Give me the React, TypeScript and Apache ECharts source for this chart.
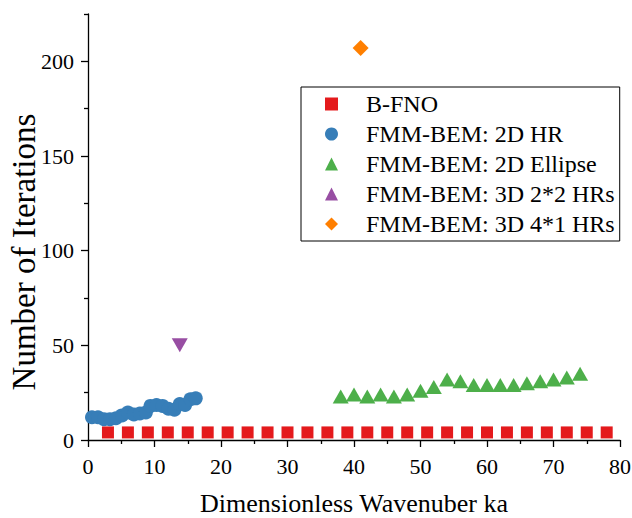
import React, { useEffect, useRef } from "react";
import * as echarts from "echarts";

// ---- data ----
const bfnoX = [3, 6, 9, 12, 15, 18, 21, 24, 27, 30, 33, 36, 39, 42, 45, 48, 51, 54, 57, 60, 63, 66, 69, 72, 75, 78];
const bfnoY = [4, 4, 4, 4, 4, 4, 4, 4, 4, 4, 4, 4, 4, 4, 4, 4, 4, 4, 4, 4, 4, 4, 4, 4, 4, 4];

const hr2dX = [0.6, 1.5, 2.4, 3.3, 4.2, 5.1, 6.0, 6.9, 7.8, 8.7, 9.4, 10.3, 11.2, 12.1, 13.0, 13.8, 14.6, 15.4, 16.2];
const hr2dY = [12, 12, 11, 11, 11.5, 13, 14.5, 13.5, 14, 14.5, 18, 18.5, 18, 16.5, 16, 19, 18.5, 21.5, 22];

const ellX = [38, 40, 42, 44, 46, 48, 50, 52, 54, 56, 58, 60, 62, 64, 66, 68, 70, 72, 74];
const ellY = [23, 24, 23, 24, 23, 24, 26, 28, 32, 31, 29, 29, 29, 29, 30, 31, 32, 33, 35];

const hr22X = [13.8];
const hr22Y = [50];

const hr41X = [41];
const hr41Y = [207];

const seriesNames = [
  "B-FNO",
  "FMM-BEM: 2D HR",
  "FMM-BEM: 2D Ellipse",
  "FMM-BEM: 3D 2*2 HRs",
  "FMM-BEM: 3D 4*1 HRs",
];

const yMajorTicks = [0, 50, 100, 150, 200];
const yMinorTicks = [25, 75, 125, 175, 225];

const pairs = (xs: number[], ys: number[]) => xs.map((x, i) => [x, ys[i]]);

const FONT = "Liberation Serif";

export default function App() {
  const ref = useRef<HTMLDivElement>(null);
  useEffect(() => {
    if (!ref.current) return;
    const chart = echarts.init(ref.current, undefined, { renderer: "svg" });
    const axisLineStyle = { color: "#000", width: 1.3 };
    chart.setOption({
      animation: false,
      backgroundColor: "#fff",
      textStyle: { fontFamily: FONT, color: "#000" },
      grid: {
        left: 88,
        right: 12,
        top: 14,
        bottom: 78,
        containLabel: false,
        outerBoundsMode: "none",
      },
      legend: {
        orient: "vertical",
        left: 301,
        top: 87,
        padding: [5, 5, 5, 24],
        itemGap: 6,
        itemWidth: 13,
        itemHeight: 13,
        borderColor: "#000",
        borderWidth: 1,
        borderRadius: 0,
        backgroundColor: "#fff",
        textStyle: {
          fontFamily: FONT,
          fontSize: 24,
          color: "#000",
          lineHeight: 24,
          padding: [0, 0, 0, 23],
        },
        data: seriesNames,
      },
      xAxis: {
        type: "value",
        min: 0,
        max: 80,
        interval: 10,
        name: "Dimensionless Wavenuber ka",
        nameLocation: "middle",
        nameGap: 52,
        nameMoveOverlap: false,
        nameTextStyle: { fontFamily: FONT, fontSize: 26, lineHeight: 22, color: "#000" },
        axisLine: { show: true, onZero: false, lineStyle: axisLineStyle },
        axisTick: { show: true, length: 7, lineStyle: axisLineStyle },
        minorTick: { show: true, splitNumber: 2, length: 4, lineStyle: axisLineStyle },
        axisLabel: { fontFamily: FONT, fontSize: 22, color: "#000", margin: 15 },
        splitLine: { show: false },
        minorSplitLine: { show: false },
      },
      yAxis: [
        {
          type: "value",
          min: 0,
          max: 225,
          interval: 50,
          name: "Number of Iterations",
          nameLocation: "middle",
          nameGap: 49,
          nameMoveOverlap: false,
          nameTextStyle: {
            fontFamily: FONT,
            fontSize: 33,
            lineHeight: 30,
            color: "#000",
            padding: [0, 50, 0, 0],
          },
          axisLine: { show: true, onZero: false, lineStyle: axisLineStyle },
          axisTick: { show: true, length: 7, lineStyle: axisLineStyle, customValues: yMajorTicks },
          axisLabel: {
            fontFamily: FONT,
            fontSize: 22,
            color: "#000",
            margin: 14,
            customValues: yMajorTicks,
            formatter: (v: number) => (v % 50 === 0 ? String(v) : ""),
          },
          splitLine: { show: false },
        },
        {
          type: "value",
          min: 0,
          max: 225,
          interval: 25,
          position: "left",
          offset: 0,
          axisLine: { show: false },
          axisTick: { show: true, length: 4, lineStyle: axisLineStyle, customValues: yMinorTicks },
          axisLabel: { show: false },
          splitLine: { show: false },
        },
      ],
      series: [
        {
          name: seriesNames[0],
          type: "scatter",
          symbol: "rect",
          symbolSize: 12,
          itemStyle: { color: "#e41a1c", opacity: 1 },
          data: pairs(bfnoX, bfnoY),
        },
        {
          name: seriesNames[1],
          type: "scatter",
          symbol: "circle",
          symbolSize: 14,
          itemStyle: { color: "#377eb8", opacity: 1 },
          data: pairs(hr2dX, hr2dY),
        },
        {
          name: seriesNames[2],
          type: "scatter",
          symbol: "triangle",
          symbolSize: [16, 14],
          itemStyle: { color: "#4daf4a", opacity: 1 },
          data: pairs(ellX, ellY),
        },
        {
          name: seriesNames[3],
          type: "scatter",
          symbol: "triangle",
          symbolRotate: 180,
          symbolSize: [16, 14],
          itemStyle: { color: "#984ea3", opacity: 1 },
          data: pairs(hr22X, hr22Y),
        },
        {
          name: seriesNames[4],
          type: "scatter",
          symbol: "diamond",
          symbolSize: [16, 16],
          itemStyle: { color: "#ff7f00", opacity: 1 },
          data: pairs(hr41X, hr41Y),
        },
      ],
    });
    return () => chart.dispose();
  }, []);
  return (
    <div
      ref={ref}
      style={{ position: "fixed", left: 0, top: 0, width: 632, height: 518, background: "#fff" }}
    />
  );
}
